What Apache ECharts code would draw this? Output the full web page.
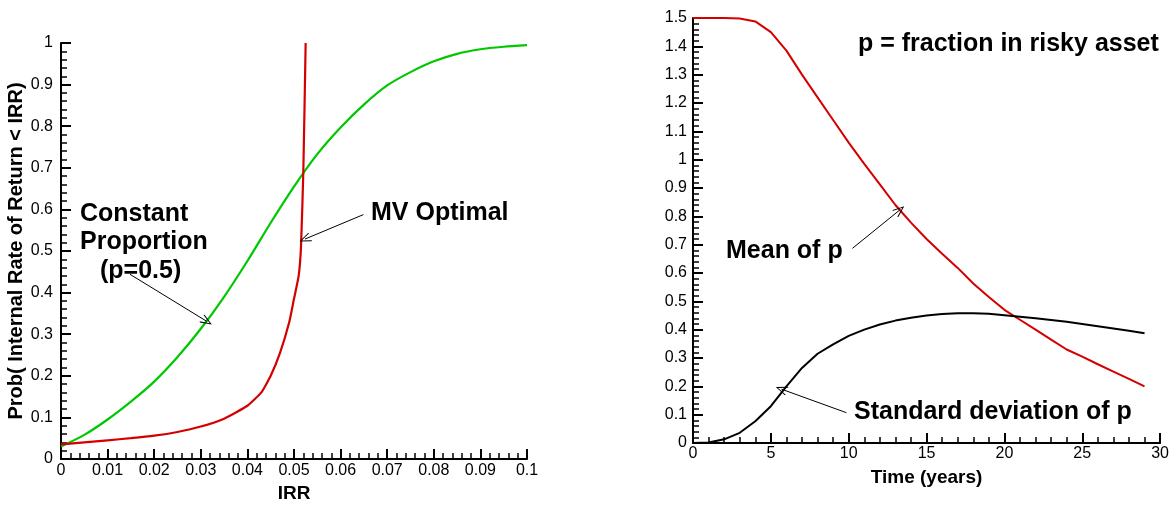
<!DOCTYPE html>
<html>
<head>
<meta charset="utf-8">
<script src="https://cdn.jsdelivr.net/npm/echarts@6/dist/echarts.min.js"></script>
<style>
html,body{margin:0;padding:0;background:#fff;}
#chart{width:1172px;height:508px;}
</style>
</head>
<body>
<div id="chart"></div>
<script>
// ---- Left panel: CDF of internal rate of return ----
var cpIrr  = [0, 0.005, 0.01, 0.015, 0.02, 0.025, 0.03, 0.035, 0.04, 0.045, 0.05, 0.055, 0.06, 0.065, 0.07, 0.075, 0.08, 0.085, 0.09, 0.095, 0.1];
var cpProb = [0.03, 0.058, 0.095, 0.138, 0.186, 0.245, 0.313, 0.39, 0.476, 0.568, 0.655, 0.733, 0.797, 0.852, 0.898, 0.93, 0.956, 0.974, 0.985, 0.991, 0.995];
var mvIrr  = [0, 0.005, 0.01, 0.015, 0.02, 0.025, 0.03, 0.035, 0.04, 0.043, 0.045, 0.047, 0.049, 0.05, 0.051, 0.0515, 0.052, 0.0525];
var mvProb = [0.035, 0.04, 0.045, 0.05, 0.056, 0.065, 0.078, 0.097, 0.128, 0.16, 0.2, 0.255, 0.33, 0.385, 0.44, 0.51, 0.69, 1.0];

// ---- Right panel: fraction in risky asset vs time ----
var years = [0,1,2,3,4,5,6,7,8,9,10,11,12,13,14,15,16,17,18,19,20,21,22,23,24,25,26,27,28,29];
var meanP = [1.5,1.5,1.5,1.498,1.488,1.45,1.385,1.30,1.22,1.14,1.06,0.985,0.913,0.84,0.778,0.72,0.668,0.618,0.563,0.515,0.47,0.435,0.4,0.365,0.33,0.305,0.278,0.252,0.226,0.2];
var stdP  = [0,0.002,0.013,0.036,0.077,0.13,0.2,0.265,0.315,0.348,0.378,0.4,0.418,0.432,0.442,0.45,0.455,0.458,0.458,0.456,0.451,0.446,0.44,0.434,0.428,0.42,0.412,0.404,0.396,0.387];

var FONT = '"Liberation Sans", Arial, Helvetica, sans-serif';

function pairs(xs, ys){ return xs.map(function(x,i){ return [x, ys[i]]; }); }

var arrowHead = 'path://M0,0 L6,12 L5,12.8 L0,2.6 L-5,12.8 L-6,12 Z';
function arrow(from, to){
  return {
    silent: true,
    symbol: ['none', arrowHead],
    symbolSize: [9, 12],
    label: {show: false},
    lineStyle: {color: '#000', width: 1, type: 'solid'},
    itemStyle: {color: '#000'},
    emphasis: {disabled: true},
    data: [[{coord: from}, {coord: to}]]
  };
}

function axisCommon(o){
  return Object.assign({
    type: 'value',
    axisLine: {show: true, onZero: false, lineStyle: {color: '#000', width: 2}},
    axisTick: {show: true, inside: true, length: 10, lineStyle: {color: '#000', width: 2}},
    minorTick: {show: true, splitNumber: 5, length: 6, lineStyle: {color: '#000', width: 1.5}},
    splitLine: {show: false},
    nameLocation: 'middle',
    nameTextStyle: {color: '#000', fontSize: 19, fontWeight: 'bold', fontFamily: FONT}
  }, o);
}

var chart = echarts.init(document.getElementById('chart'), null, {renderer: 'canvas'});
chart.setOption({
  animation: false,
  backgroundColor: '#fff',
  grid: [
    {left: 61, top: 43, width: 466, height: 425, containLabel: false},
    {left: 693, top: 18, width: 468, height: 425, containLabel: false}
  ],
  xAxis: [
    axisCommon({gridIndex: 0, min: 0, max: 0.1, interval: 0.01, name: 'IRR', nameGap: 25,
      axisLabel: {color: '#000', fontSize: 16, fontFamily: FONT, margin: 4}}),
    axisCommon({gridIndex: 1, min: 0, max: 30, interval: 5, name: 'Time (years)', nameGap: 25,
      axisLabel: {color: '#000', fontSize: 16, fontFamily: FONT, margin: 3}})
  ],
  yAxis: [
    axisCommon({gridIndex: 0, min: 0, max: 1, interval: 0.1, name: 'Prob( Internal Rate of Return < IRR)', nameGap: 35,
      nameTextStyle: {color: '#000', fontSize: 20, fontWeight: 'bold', fontFamily: FONT},
      axisLabel: {color: '#000', fontSize: 16, fontFamily: FONT, margin: 8}}),
    axisCommon({gridIndex: 1, min: 0, max: 1.5, interval: 0.1, name: '',
      axisLabel: {color: '#000', fontSize: 16, fontFamily: FONT, margin: 6}})
  ],
  series: [
    {
      name: 'Constant Proportion (p=0.5)', type: 'line', xAxisIndex: 0, yAxisIndex: 0,
      data: pairs(cpIrr, cpProb), showSymbol: false, smooth: 0.25,
      lineStyle: {color: '#00c800', width: 2.2}, itemStyle: {color: '#00c800'},
      markLine: arrow([0.0148, 0.444], [0.03127, 0.331])
    },
    {
      name: 'MV Optimal', type: 'line', xAxisIndex: 0, yAxisIndex: 0,
      data: pairs(mvIrr, mvProb), showSymbol: false, smooth: 0.15,
      lineStyle: {color: '#d40000', width: 2.2}, itemStyle: {color: '#d40000'},
      markLine: arrow([0.0649, 0.5875], [0.05236, 0.5287])
    },
    {
      name: 'Mean of p', type: 'line', xAxisIndex: 1, yAxisIndex: 1,
      data: pairs(years, meanP), showSymbol: false,
      lineStyle: {color: '#d40000', width: 2}, itemStyle: {color: '#d40000'},
      markLine: arrow([10.24, 0.687], [13.27, 0.822])
    },
    {
      name: 'Standard deviation of p', type: 'line', xAxisIndex: 1, yAxisIndex: 1,
      data: pairs(years, stdP), showSymbol: false,
      lineStyle: {color: '#000', width: 2}, itemStyle: {color: '#000'},
      markLine: arrow([9.85, 0.107], [5.68, 0.19])
    }
  ],
  graphic: [
    {type: 'text', x: 80, y: 214, style: {text: 'Constant', fontSize: 25, fontWeight: 'bold', fontFamily: FONT, fill: '#000', verticalAlign: 'middle'}},
    {type: 'text', x: 80, y: 242, style: {text: 'Proportion', fontSize: 25, fontWeight: 'bold', fontFamily: FONT, fill: '#000', verticalAlign: 'middle'}},
    {type: 'text', x: 100, y: 271, style: {text: '(p=0.5)', fontSize: 25, fontWeight: 'bold', fontFamily: FONT, fill: '#000', verticalAlign: 'middle'}},
    {type: 'text', x: 371, y: 213, style: {text: 'MV Optimal', fontSize: 25, fontWeight: 'bold', fontFamily: FONT, fill: '#000', verticalAlign: 'middle'}},
    {type: 'text', x: 858, y: 44, style: {text: 'p = fraction in risky asset', fontSize: 25, fontWeight: 'bold', fontFamily: FONT, fill: '#000', verticalAlign: 'middle'}},
    {type: 'text', x: 726, y: 251, style: {text: 'Mean of p', fontSize: 25, fontWeight: 'bold', fontFamily: FONT, fill: '#000', verticalAlign: 'middle'}},
    {type: 'text', x: 854, y: 412, style: {text: 'Standard deviation of p', fontSize: 25, fontWeight: 'bold', fontFamily: FONT, fill: '#000', verticalAlign: 'middle'}}
  ]
});
</script>
</body>
</html>
